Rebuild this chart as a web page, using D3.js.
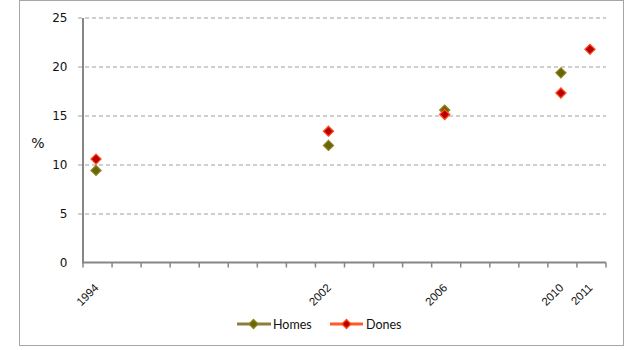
<!DOCTYPE html>
<html><head><meta charset="utf-8">
<script src="https://cdn.jsdelivr.net/npm/d3@7/dist/d3.min.js"></script>
<style>body{margin:0;background:#fff}svg{display:block}</style>
</head><body><svg id="c" width="625" height="350"></svg>
<script>
const years = d3.range(1994, 2012).map(String);
const labelYears = ["1994","2002","2006","2010","2011"];
const homesYears = ["1994","2002","2006","2010"];
const homesValues = [9.4, 11.95, 15.55, 19.35];
const donesYears = ["1994","2002","2006","2010","2011"];
const donesValues = [10.55, 13.4, 15.1, 17.3, 21.75];
const yTicks = [0,5,10,15,20,25];

const svg = d3.select("#c");
svg.append("rect").attr("x",19.5).attr("y",0.5).attr("width",604).attr("height",345)
  .attr("fill","#fff").attr("stroke","#a6a6a6").attr("stroke-width",1);

const x = d3.scaleBand().domain(years).range([83,606]);
const y = d3.scaleLinear().domain([0,25]).range([262.5,17.5]);

// gridlines
const grid = svg.append("g").attr("transform","translate(78,0)")
  .call(d3.axisLeft(y).tickValues(yTicks.slice(1)).tickSize(-528).tickFormat(""));
grid.select(".domain").remove();
grid.selectAll("line").attr("stroke","#9e9e9e").attr("stroke-dasharray","4,3").attr("stroke-width",1);

// y axis
const ya = svg.append("g").attr("transform","translate(82.5,0)")
  .call(d3.axisLeft(y).tickValues(yTicks).tickSize(0).tickPadding(15));
ya.select(".domain").attr("stroke","#868686").attr("stroke-width",2);
ya.selectAll("text").attr("font-family","DejaVu Sans").attr("font-size",12).attr("fill","#111");

// x axis
const xa = svg.append("g").attr("transform","translate(0,262.5)");
xa.append("line").attr("x1",82).attr("x2",606).attr("stroke","#868686").attr("stroke-width",2);
xa.selectAll("line.t").data(years.concat(["end"])).join("line").attr("class","t")
  .attr("x1",(d,i)=> i<years.length ? x(d) : x.range()[1])
  .attr("x2",(d,i)=> i<years.length ? x(d) : x.range()[1])
  .attr("y1",0).attr("y2",5).attr("stroke","#868686").attr("stroke-width",1.5);
xa.selectAll("text").data(labelYears).join("text")
  .attr("transform", d=>`translate(${x(d)+x.bandwidth()/2-1},23) rotate(-45)`)
  .attr("text-anchor","end").attr("dy","0.35em")
  .attr("font-family","Liberation Sans").attr("font-size",11.5).attr("fill","#111")
  .text(d=>d);

// y label
svg.append("text").attr("x",38).attr("y",148).attr("text-anchor","middle")
  .attr("font-family","DejaVu Sans").attr("font-size",14).attr("fill","#111").text("%");

function diamond(g, cx, cy, fill, stroke, r){
  g.append("path").attr("d",`M${cx},${cy-r}L${cx+r},${cy}L${cx},${cy+r}L${cx-r},${cy}Z`)
    .attr("fill",fill).attr("stroke",stroke).attr("stroke-width",1.3);
}
const pts = svg.append("g");
homesYears.forEach((yr,i)=>diamond(pts, x(yr)+x.bandwidth()/2-1.5, y(homesValues[i]), "#6b6400", "#8a8320", 5));
donesYears.forEach((yr,i)=>diamond(pts, x(yr)+x.bandwidth()/2-1.5, y(donesValues[i]), "#b80000", "#ff4a1a", 5));

// legend
const lg = svg.append("g");
lg.append("line").attr("x1",237).attr("x2",271).attr("y1",324).attr("y2",324).attr("stroke","#8c7d3c").attr("stroke-width",3);
diamond(lg,253.5,324,"#6b6400","#8a8320",4.5);
lg.append("text").attr("x",273).attr("y",328.5).attr("font-family","Lato").attr("font-size",12.5).attr("fill","#111").text("Homes");
lg.append("line").attr("x1",330).attr("x2",363).attr("y1",324).attr("y2",324).attr("stroke","#ff5a28").attr("stroke-width",3);
diamond(lg,346.5,324,"#b80000","#ff4a1a",4.5);
lg.append("text").attr("x",366).attr("y",328.5).attr("font-family","Lato").attr("font-size",12.5).attr("fill","#111").text("Dones");
</script></body></html>
